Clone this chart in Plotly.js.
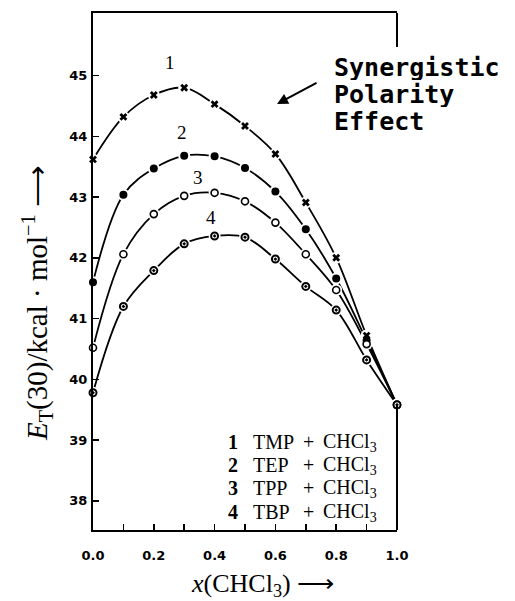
<!DOCTYPE html>
<html><head><meta charset="utf-8">
<script src="https://cdn.plot.ly/plotly-3.0.1.min.js"></script>
<style>html,body{margin:0;padding:0;background:#fff}</style>
</head><body><div id="chart" style="width:515px;height:601px"></div>
<script>
// ---- data ----
const xFrac = [0, 0.1, 0.2, 0.3, 0.4, 0.5, 0.6, 0.7, 0.8, 0.9, 1.0];
const tmp = [43.62, 44.32, 44.68, 44.80, 44.53, 44.17, 43.71, 42.91, 42.00, 40.72, 39.58];
const tep = [41.60, 43.04, 43.47, 43.68, 43.67, 43.48, 43.09, 42.47, 41.66, 40.64, 39.58];
const tpp = [40.52, 42.06, 42.72, 43.02, 43.07, 42.93, 42.58, 42.06, 41.47, 40.58, 39.58];
const tbp = [39.78, 41.20, 41.79, 42.23, 42.36, 42.34, 41.98, 41.53, 41.14, 40.32, 39.58];
const xTickVals = [0, 0.2, 0.4, 0.6, 0.8, 1.0];
const xTickText = ['0.0', '0.2', '0.4', '0.6', '0.8', '1.0'];
const xMinorVals = [0.1, 0.3, 0.5, 0.7, 0.9];
const yTickVals = [38, 39, 40, 41, 42, 43, 44, 45];
const seriesNums = ['1', '2', '3', '4'];
const seriesNames = ['TMP', 'TEP', 'TPP', 'TBP'];
const cosolvent = 'CHCl<sub>3</sub>';

// ---- layout helpers ----
const L = 93, R = 397, T = 13, B = 530;
const px = x => (x - L) / (R - L);
const py = y => (B - y) / (B - T);
const serif = 'Liberation Serif, Times New Roman, serif';

const allY = [tmp, tep, tpp, tbp];
const markerSpecs = [
  {symbol: 'x', size: 7, color: 'black', line: {width: 0}},
  {symbol: 'circle', size: 8, color: 'black', line: {width: 0}},
  {symbol: 'circle', size: 7, color: 'white', line: {width: 1.6, color: 'black'}},
  {symbol: 'circle-dot', size: 7, color: 'white', line: {width: 2, color: 'black'}}
];

const traces = [];
allY.forEach(ys => traces.push({
  x: xFrac, y: ys, mode: 'lines', type: 'scatter', hoverinfo: 'skip',
  line: {color: 'black', width: 1.8, shape: 'spline', smoothing: 1}, cliponaxis: false
}));
allY.forEach(ys => traces.push({
  x: xFrac, y: ys, mode: 'markers', type: 'scatter', hoverinfo: 'skip',
  marker: {symbol: 'circle', size: 12, color: 'white', line: {width: 0}}, cliponaxis: false
}));
allY.forEach((ys, i) => traces.push({
  x: xFrac, y: ys, mode: 'markers', type: 'scatter',
  marker: markerSpecs[i], cliponaxis: false
}));

const ann = [];
function txt(x, y, text, font, xa, extra) {
  ann.push(Object.assign({xref: 'paper', yref: 'paper', x: px(x), y: py(y), text: text,
    showarrow: false, xanchor: xa || 'center', yanchor: 'middle', font: font}, extra || {}));
}
// curve number labels
const numPos = [[170, 62], [182, 132], [198, 177], [211, 217]];
seriesNums.forEach((n, i) => txt(numPos[i][0], numPos[i][1], n, {family: serif, size: 19, color: 'black'}));
// legend block
const legY = [442, 465, 488, 512];
const lf = {family: serif, size: 20, color: 'black'};
seriesNums.forEach((n, i) => {
  txt(233, legY[i], '<b>' + n + '</b>', lf);
  txt(251, legY[i], seriesNames[i], lf, 'left');
  txt(308, legY[i], '+', lf);
  txt(321, legY[i], cosolvent, lf, 'left');
});
// synergistic text
const synLines = ['Synergistic', 'Polarity', 'Effect'];
const synY = [67, 94, 121];
synLines.forEach((t, i) => txt(332, synY[i], t,
  {family: 'DejaVu Sans Mono', size: 25, color: 'black', weight: 'bold'}, 'left', {height: 26}));
// arrow
ann.push({xref: 'paper', yref: 'paper', x: px(277), y: py(104), ax: 41, ay: -22, text: '',
  showarrow: true, arrowhead: 2, arrowsize: 1.1, arrowwidth: 2, arrowcolor: 'black'});
// axis titles
txt(37, 303, '<i>E</i><sub>T</sub>(30)/kcal · mol<sup>−1</sup> ⟶', {family: serif, size: 29, color: 'black'},
  'center', {textangle: -90});
txt(262, 585, '<i>x</i>(CHCl<sub>3</sub>) ⟶', {family: serif, size: 26, color: 'black'});

const layout = {
  width: 515, height: 601,
  margin: {l: L, r: 515 - R, t: T, b: 601 - B, pad: 0},
  paper_bgcolor: 'white', plot_bgcolor: 'white', showlegend: false,
  xaxis: {range: [0, 1], showgrid: false, zeroline: false, showline: true, linewidth: 2,
    linecolor: 'black', mirror: true, ticks: 'inside', ticklen: 6, tickwidth: 1.5, tickcolor: 'black',
    tickmode: 'array', tickvals: xTickVals, ticktext: xTickText, ticklabelstandoff: 12,
    minor: {tickmode: 'array', tickvals: xMinorVals, ticks: 'inside', ticklen: 6, tickwidth: 1.5,
      tickcolor: 'black', showgrid: false},
    tickfont: {family: 'DejaVu Sans', size: 13, color: 'black', weight: 'bold'}},
  yaxis: {range: [37.52, 46.03], showgrid: false, zeroline: false, showline: true, linewidth: 2,
    linecolor: 'black', mirror: false, ticks: 'inside', ticklen: 6, tickwidth: 1.5, tickcolor: 'black',
    tickmode: 'array', tickvals: yTickVals, ticklabelstandoff: 1,
    tickfont: {family: 'DejaVu Sans', size: 13, color: 'black', weight: 'bold'}},
  shapes: [
    {type: 'line', xref: 'paper', yref: 'y', x0: 1, x1: 1, y0: 46.03, y1: 45.47, line: {color: 'black', width: 2}},
    {type: 'line', xref: 'paper', yref: 'y', x0: 1, x1: 1, y0: 39.6, y1: 37.52, line: {color: 'black', width: 2}}
  ],
  annotations: ann
};
Plotly.newPlot('chart', traces, layout, {displayModeBar: false, staticPlot: true});
</script></body></html>
